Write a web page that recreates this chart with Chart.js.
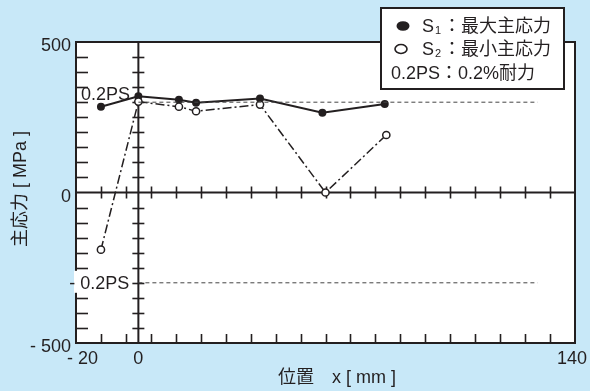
<!DOCTYPE html>
<html>
<head>
<meta charset="utf-8">
<script src="https://cdn.jsdelivr.net/npm/chart.js@4/dist/chart.umd.min.js"></script>
<style>
html,body{margin:0;padding:0;background:#c8e8f8;}
#wrap{width:590px;height:391px;}
</style>
</head>
<body>
<div id="wrap"><canvas id="c" width="590" height="391"></canvas></div>
<script>
// ---- data ----
const s1X = [-12, 0, 13, 18.5, 39, 59, 79];
const s1Y = [285, 320, 308, 298, 312, 265, 294];
const s2X = [-12, 0, 13, 18.5, 39, 60, 79.5];
const s2Y = [-190, 302, 285, 270, 292, 0, 191];
const psValue = 300;          // 0.2% proof stress
const psRangeX = [0, 128];    // extent of the 0.2PS reference lines
const xTickValues = [-20, 0, 140];
const xTickTexts = ['- 20', '0', '140'];
const yTickValues = [500, 0, -500];
const yTickTexts = ['500', '0', '- 500'];
const xMinorStep = 8, xMinorStart = -12, xMinorEnd = 132;
const yMinorStep = 50, yMinorLimit = 450;
const psTexts = ['0.2PS', '- 0.2PS'];
const xTitle = '位置　x [ mm ]';
const yTitle = '主応力 [ MPa ]';
const legendS1 = ['S', '1', '：最大主応力'];
const legendS2 = ['S', '2', '：最小主応力'];
const legendPS = ['0.2PS', '：0.2%耐力'];

const INK = '#231f20';
const FONT = '"Liberation Sans", "Noto Sans CJK JP", Arial, sans-serif';
const F18 = '18px ' + FONT;

const pts = (xs, ys) => xs.map((x, i) => ({x: x, y: ys[i]}));

function seg(ctx, x1, y1, x2, y2) {
  ctx.beginPath();
  ctx.moveTo(x1, y1);
  ctx.lineTo(x2, y2);
  ctx.stroke();
}

const decor = {
  id: 'decor',
  beforeDraw(chart) {
    const ctx = chart.ctx;
    ctx.save();
    ctx.fillStyle = '#c8e8f8';
    ctx.fillRect(0, 0, chart.width, chart.height);
    ctx.restore();
  },
  beforeDatasetsDraw(chart) {
    const ctx = chart.ctx, a = chart.chartArea;
    const xs = chart.scales.x, ys = chart.scales.y;
    const x0 = xs.getPixelForValue(0), y0 = ys.getPixelForValue(0);
    ctx.save();
    ctx.setLineDash([]);
    ctx.globalAlpha = 1;
    ctx.fillStyle = '#ffffff';
    ctx.fillRect(a.left, a.top, a.right - a.left, a.bottom - a.top);

    // tick labels
    ctx.fillStyle = INK;
    ctx.font = F18;
    ctx.textBaseline = 'alphabetic';
    ctx.textAlign = 'right';
    yTickValues.forEach((v, i) => {
      const py = ys.getPixelForValue(v);
      ctx.fillText(yTickTexts[i], a.left - 5, py + 9);
    });
    xTickValues.forEach((v, i) => {
      const px = xs.getPixelForValue(v);
      if (i === 0) { ctx.textAlign = 'left'; ctx.fillText(xTickTexts[i], px - 9, a.bottom + 21); }
      else if (i === xTickValues.length - 1) { ctx.textAlign = 'right'; ctx.fillText(xTickTexts[i], px + 12, a.bottom + 21); }
      else { ctx.textAlign = 'center'; ctx.fillText(xTickTexts[i], px, a.bottom + 21); }
    });

    // axis titles
    ctx.textAlign = 'left';
    ctx.fillText(xTitle, 278, 383);
    ctx.save();
    ctx.translate(26, 189);
    ctx.rotate(-Math.PI / 2);
    ctx.textAlign = 'center';
    ctx.fillText(yTitle, 0, 0);
    ctx.restore();

    // frame and zero axes
    ctx.strokeStyle = INK;
    ctx.lineWidth = 2;
    ctx.strokeRect(a.left, a.top, a.right - a.left, a.bottom - a.top);
    seg(ctx, a.left, y0, a.right, y0);
    seg(ctx, x0, a.top, x0, a.bottom);

    // ticks
    ctx.lineWidth = 1.6;
    for (let v = -yMinorLimit; v <= yMinorLimit; v += yMinorStep) {
      if (v === 0) continue;
      const py = Math.round(ys.getPixelForValue(v)) + 0.5;
      seg(ctx, a.left, py, a.left + 12, py);
      seg(ctx, x0 - 6, py, x0 + 6, py);
    }
    for (let v = xMinorStart; v <= xMinorEnd; v += xMinorStep) {
      const px = Math.round(xs.getPixelForValue(v)) + 0.5;
      seg(ctx, px, y0 - 6, px, y0 + 6);
      seg(ctx, px, a.bottom - 9, px, a.bottom);
    }

    // 0.2PS labels
    const pyTop = ys.getPixelForValue(psValue);
    const pyBot = ys.getPixelForValue(-psValue);
    ctx.fillStyle = INK;
    ctx.textAlign = 'left';
    ctx.fillText(psTexts[0], a.left + 5, pyTop - 2);
    ctx.fillStyle = '#ffffff';
    ctx.fillRect(a.left - 2, pyBot - 12, 58, 22);
    ctx.fillStyle = INK;
    ctx.textAlign = 'right';
    ctx.fillText(psTexts[1], x0 - 9, pyBot + 6);
    ctx.restore();
  },
  afterDatasetsDraw(chart) {
    const ctx = chart.ctx;
    ctx.save();
    ctx.setLineDash([]);
    // legend box
    ctx.fillStyle = '#ffffff';
    ctx.fillRect(381, 8, 183, 81);
    ctx.strokeStyle = INK;
    ctx.lineWidth = 2;
    ctx.strokeRect(381, 8, 183, 81);
    // markers
    ctx.fillStyle = INK;
    ctx.beginPath();
    ctx.ellipse(403, 26, 6.5, 4.8, 0, 0, Math.PI * 2);
    ctx.fill();
    ctx.lineWidth = 1.6;
    ctx.beginPath();
    ctx.ellipse(401, 49, 6, 4.5, 0, 0, Math.PI * 2);
    ctx.stroke();
    // text
    ctx.textAlign = 'left';
    ctx.textBaseline = 'alphabetic';
    const row = (parts, y) => {
      ctx.font = F18;
      ctx.fillText(parts[0], 422, y);
      ctx.font = '11px ' + FONT;
      ctx.fillText(parts[1], 435, y + 2);
      ctx.font = F18;
      ctx.fillText(parts[2], 443, y);
    };
    row(legendS1, 32);
    row(legendS2, 55);
    ctx.font = F18;
    ctx.fillText(legendPS[0], 391, 79);
    ctx.fillText(legendPS[1], 440, 79);
    ctx.restore();
  }
};

new Chart(document.getElementById('c'), {
  type: 'scatter',
  data: {
    datasets: [
      {
        label: '0.2PS',
        data: pts(psRangeX, [psValue, psValue]),
        showLine: true, borderColor: '#444', borderWidth: 1,
        borderDash: [4, 3], pointRadius: 0
      },
      {
        label: '-0.2PS',
        data: pts(psRangeX, [-psValue, -psValue]),
        showLine: true, borderColor: '#444', borderWidth: 1,
        borderDash: [4, 3], pointRadius: 0
      },
      {
        label: 'S2',
        data: pts(s2X, s2Y),
        showLine: true, borderColor: INK, borderWidth: 1.5,
        borderDash: [9, 3, 2, 3],
        pointRadius: 3.6, pointBackgroundColor: '#ffffff',
        pointBorderColor: INK, pointBorderWidth: 1.5
      },
      {
        label: 'S1',
        data: pts(s1X, s1Y),
        showLine: true, borderColor: INK, borderWidth: 2,
        pointRadius: 3, pointBackgroundColor: INK, pointBorderColor: INK
      }
    ]
  },
  options: {
    responsive: false,
    animation: false,
    devicePixelRatio: 1,
    layout: { padding: { left: 76, right: 15, top: 42, bottom: 48 } },
    plugins: { legend: { display: false }, tooltip: { enabled: false } },
    scales: {
      x: { type: 'linear', min: -20, max: 140, display: false },
      y: { type: 'linear', min: -500, max: 500, display: false }
    }
  },
  plugins: [decor]
});
</script>
</body>
</html>
